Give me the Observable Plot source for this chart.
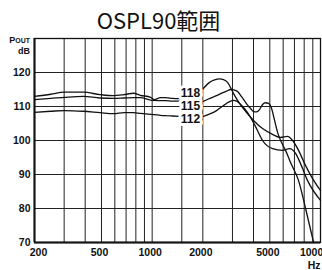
<!DOCTYPE html>
<html><head><meta charset="utf-8">
<script src="https://cdn.jsdelivr.net/npm/d3@7"></script>
<script src="https://cdn.jsdelivr.net/npm/@observablehq/plot@0.6"></script>
<style>
html,body{margin:0;padding:0;background:#fff;overflow:hidden;}
#wrap{position:relative;width:322px;height:270px;}
#chart{position:absolute;left:0;top:0;}
#title{position:absolute;left:0;top:8px;width:317px;text-align:center;font-family:"Noto Sans CJK JP","Noto Sans",sans-serif;font-size:22px;line-height:22px;color:#111;}
#pout{position:absolute;right:292px;top:35px;text-align:right;font-family:"Liberation Sans",Arial,sans-serif;font-weight:bold;font-size:9px;line-height:11px;color:#111;}
#pout span{font-size:7px;}
</style></head>
<body><div id="wrap"><div id="chart"></div><div id="title">OSPL90範囲</div><div id="pout">P<span>OUT</span><br>dB</div></div>
<script>
// Left part (200 Hz – ~1.5 kHz)
const freqLeft = [200, 250, 300, 390, 490, 590, 680, 775, 850, 980, 1030, 1120, 1200, 1320, 1475];
const left118 = [113.0, 113.6, 114.2, 114.2, 113.5, 113.2, 113.5, 113.9, 113.3, 112.7, 112.0, 112.6, 112.6, 112.4, 112.3];
const left115 = [112.0, 112.4, 112.7, 113.0, 112.5, 112.4, 112.5, 112.6, 112.6, 111.9, 111.8, 111.7, 111.7, 111.6, 111.6];
const left112 = [108.3, 108.6, 108.8, 108.6, 108.2, 107.9, 108.2, 108.2, 108.0, 107.7, 107.6, 107.4, 107.3, 107.2, 107.1];

// Right part (~2 kHz – 10 kHz)
const freq118 = [1965, 2192, 2348, 2514, 2655, 2804, 3045, 3305, 3638, 4002, 4528, 5192, 5790, 6372, 6824, 7408, 8154, 8974, 10000];
const right118 = [114.7, 117.1, 117.8, 118.1, 117.9, 117.1, 113.8, 110.9, 108.2, 105.9, 103.5, 101.8, 100.9, 101.2, 100.0, 97.1, 92.6, 88.8, 85.3];
const freq115 = [1965, 2162, 2412, 2618, 2767, 2922, 3045, 3216, 3396, 3638, 3842, 4002, 4171, 4346, 4528, 4718, 4915, 5122, 5336, 5558, 5870, 6200, 6640, 7408, 8154, 9100];
const right115 = [111.3, 112.2, 113.2, 114.0, 114.5, 115.0, 114.9, 114.4, 112.9, 110.8, 109.4, 108.5, 108.4, 109.1, 110.6, 111.1, 110.9, 109.4, 105.9, 102.4, 99.4, 97.1, 93.5, 88.2, 80.0, 70.0];
const freq112 = [1965, 2222, 2412, 2655, 2842, 3045, 3172, 3492, 3842, 4171, 4528, 5192, 5950, 6550, 7110, 7614, 8380, 10000];
const right112 = [106.9, 107.9, 108.8, 110.3, 111.3, 111.8, 111.6, 109.7, 106.8, 103.5, 100.0, 97.6, 97.1, 97.6, 96.2, 93.2, 88.2, 82.4];

// Curve labels
const labelText = ["118", "115", "112"];
const labelDb = [114.0, 110.0, 106.2];
const labelFreq = 1690;

// Ticks and grid
const yTicks = [70, 80, 90, 100, 110, 120];
const gridDb = [80, 90, 100, 110, 120];
const gridFreqs = [300, 400, 500, 600, 700, 800, 900, 1000, 1500, 2000, 3000, 4000, 5000, 6000, 7000, 8000, 9000];
const xTickFirst = [200];
const xTicksMid = [500, 1000, 2000, 5000];
const xTickLast = [10000];

const zip = (fs, vs) => fs.map((f, i) => ({f, v: vs[i]}));
const series = [
  zip(freqLeft, left118), zip(freqLeft, left115), zip(freqLeft, left112),
  zip(freq118, right118), zip(freq115, right115), zip(freq112, right112)
];
const lineOpts = {x: "f", y: "v", stroke: "#111", strokeWidth: 1.3, curve: "monotone-x"};
const fmt = d => String(d);
const xLabel = (ticks, dx) => Plot.text(ticks, {
  x: d => d, text: fmt, frameAnchor: "bottom", lineAnchor: "top", textAnchor: "middle",
  dy: 6, dx, fontSize: 10.5, fontWeight: "bold", fill: "#111"
});

const plot = Plot.plot({
  width: 322, height: 270,
  marginTop: 38, marginBottom: 28, marginLeft: 34, marginRight: 2,
  x: {type: "log", domain: [200, 10000], axis: null},
  y: {domain: [70, 130]},
  style: {fontFamily: "'Liberation Sans', Arial, sans-serif", fontSize: "10.5px", fontWeight: "bold", color: "#111", background: "#fff"},
  marks: [
    Plot.gridX(gridFreqs, {stroke: "#222", strokeOpacity: 1, strokeWidth: 1}),
    Plot.gridY(gridDb, {stroke: "#222", strokeOpacity: 1, strokeWidth: 1}),
    Plot.frame({stroke: "#111", strokeWidth: 1.3}),
    Plot.ruleX([200], {stroke: "#111", strokeWidth: 2}),
    Plot.ruleY([70], {stroke: "#111", strokeWidth: 2}),
    Plot.axisY(yTicks, {tickSize: 0, tickPadding: 4, label: null, tickFormat: fmt}),
    xLabel(xTickFirst, 4),
    xLabel(xTicksMid, -2),
    xLabel(xTickLast, -6),
    ...series.map(s => Plot.line(s, lineOpts)),
    Plot.text(labelText, {
      x: () => labelFreq, y: (d, i) => labelDb[i], text: d => d,
      fontFamily: "'Liberation Sans Narrow', 'Liberation Sans', Arial, sans-serif",
      fontSize: 12, fontWeight: "bold", fill: "#111",
      stroke: "white", strokeWidth: 6, paintOrder: "stroke", strokeLinejoin: "round"
    }),
    Plot.text(["Hz"], {frameAnchor: "bottom-right", textAnchor: "end", lineAnchor: "middle", dy: 23, fontSize: 10.5, fontWeight: "bold"})
  ]
});
document.getElementById("chart").appendChild(plot);
</script>
</body></html>
